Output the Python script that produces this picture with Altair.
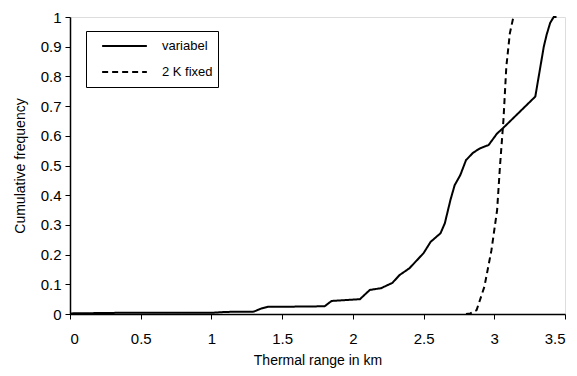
import altair as alt
import pandas as pd

# variabel curve (km, cumulative frequency)
var_x = [0.0, 0.35, 1.0, 1.1, 1.3, 1.35, 1.4, 1.63, 1.80, 1.85, 2.05, 2.12, 2.20, 2.28, 2.33,
         2.40, 2.50, 2.55, 2.62, 2.65, 2.69, 2.72, 2.76, 2.80, 2.85, 2.90, 2.96, 3.02,
         3.06, 3.29, 3.35, 3.37, 3.395, 3.42, 3.44]
var_y = [0.002, 0.004, 0.004, 0.007, 0.008, 0.018, 0.024, 0.025, 0.026, 0.044, 0.05, 0.081,
         0.087, 0.105, 0.131, 0.154, 0.205, 0.243, 0.272, 0.305, 0.384, 0.434, 0.468,
         0.518, 0.543, 0.558, 0.569, 0.608, 0.625, 0.732, 0.90, 0.94, 0.98, 1.0, 1.0]

# 2 K fixed curve
fix_x = [2.80, 2.83, 2.875, 2.93, 2.98, 3.02, 3.04, 3.065, 3.085, 3.11, 3.135]
fix_y = [0.0, 0.002, 0.013, 0.092, 0.215, 0.35, 0.496, 0.655, 0.832, 0.945, 1.0]

series_names = ["variabel", "2 K fixed"]

df = pd.concat([
    pd.DataFrame({"x": var_x, "y": var_y, "s": series_names[0], "o": range(len(var_x))}),
    pd.DataFrame({"x": fix_x, "y": fix_y, "s": series_names[1], "o": range(len(fix_x))}),
])

font = "Liberation Sans"

chart = alt.Chart(df).mark_line(strokeWidth=2).encode(
    x=alt.X("x:Q", title="Thermal range in km",
            scale=alt.Scale(domain=[0, 3.5], nice=False),
            axis=alt.Axis(values=[0, 0.5, 1, 1.5, 2, 2.5, 3, 3.5], format="~g",
                          grid=False, tickSize=5, labelPadding=12, titlePadding=7,
                          domainColor="black", domainWidth=1.5, tickColor="black", labelColor="black",
                          titleColor="black", labelFontSize=15, titleFontSize=14,
                          labelFont=font, titleFont=font, titleFontWeight="normal")),
    y=alt.Y("y:Q", title="Cumulative frequency",
            scale=alt.Scale(domain=[0, 1], nice=False),
            axis=alt.Axis(values=[0, 0.1, 0.2, 0.3, 0.4, 0.5, 0.6, 0.7, 0.8, 0.9, 1], format="~g",
                          grid=False, tickSize=5, labelPadding=4, titlePadding=13,
                          domainColor="black", domainWidth=1.5, tickColor="black", labelColor="black",
                          titleColor="black", labelFontSize=15, titleFontSize=14,
                          labelFont=font, titleFont=font, titleFontWeight="normal")),
    color=alt.Color("s:N", title=None,
                    scale=alt.Scale(domain=series_names, range=["black", "black"]),
                    legend=alt.Legend(orient="none", legendX=16, legendY=14,
                                      symbolType="stroke", symbolSize=2000, symbolStrokeWidth=2,
                                      symbolOffset=10,
                                      clipHeight=20, rowPadding=6, labelOffset=14,
                                      labelFontSize=13, labelFont=font, labelColor="black",
                                      strokeColor="black", padding=5, fillColor="white")),
    strokeDash=alt.StrokeDash("s:N", title=None,
                              scale=alt.Scale(domain=series_names, range=[[1, 0], [6, 4]])),
    order="o:Q",
).properties(
    width=495, height=297,
    autosize=alt.AutoSizeParams(type="none"),
    padding={"left": 62, "top": 9, "right": 4, "bottom": 54},
).configure_view(stroke="black", strokeWidth=1.5).configure(background="white")

chart.save("out.html", embed_options={"renderer": "svg", "actions": False})
